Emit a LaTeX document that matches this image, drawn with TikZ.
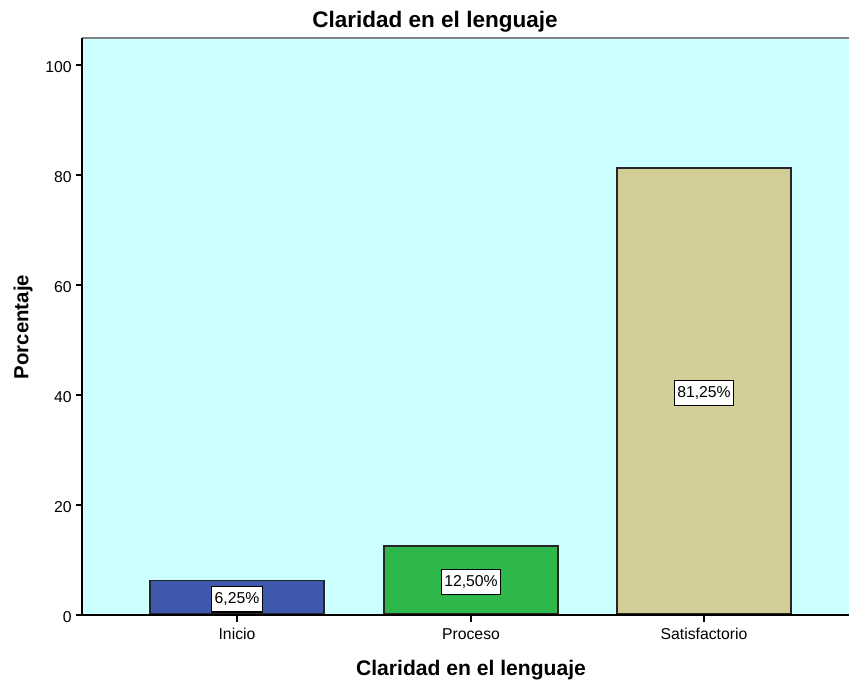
\documentclass[tikz,border=0pt]{standalone}
\usepackage{fontspec}
\setmainfont{Liberation Sans}
\usetikzlibrary{positioning}

\definecolor{fondo}{RGB}{204,255,255}
\definecolor{azulinicio}{RGB}{62,88,172}
\definecolor{verdeproceso}{RGB}{46,184,75}
\definecolor{beigesatis}{RGB}{211,206,152}

\tikzset{
  barra/.style={draw=black!85, line width=1.1pt, anchor=south, minimum width=4.35cm, inner sep=0pt},
  valor/.style={draw=black, fill=white, line width=0.9pt, inner xsep=2pt, inner ysep=0pt, minimum height=0.63cm, yshift=-1.4pt, font=\fontsize{11.2}{13}\selectfont},
  marca/.style={inner sep=0pt, font=\fontsize{11.2}{13}\selectfont},
  eje/.style={line width=1.1pt, black},
}

\begin{document}
\begin{tikzpicture}[x=0.025cm, y=-0.025cm]
        \useasboundingbox (0,0) rectangle (849,681);

        % area del grafico
        \coordinate (arribaizq) at (82,38);
        \coordinate (arribader) at (849,38);
        \coordinate (origen) at (82,615);
        \coordinate (abajoder) at (849,615);
        \fill[fondo] (arribaizq) rectangle (abajoder);
        \draw[line width=1.3pt, black!50] (arribaizq) -- (arribader);

        % barras
        \node[barra, fill=azulinicio, minimum height=0.84cm] (inicio) at (237,615) {};
        \node[barra, fill=verdeproceso, minimum height=1.70cm] (proceso) at (471,615) {};
        \node[barra, fill=beigesatis, minimum height=11.15cm] (satis) at (704,615) {};

        \draw[eje] (arribaizq) -- (origen) -- (abajoder);

        % eje y
        \foreach \v in {0,20,...,100} {
            \coordinate (ty\v) at (82,{615-5.5*\v});
            \draw[eje] (ty\v) -- ++(-6,0);
            \node[marca, anchor=east] (ny\v) at (72,{617-5.5*\v}) {\v};
        }

        % eje x
        \draw[eje] (inicio.south) -- ++(0,7);
        \draw[eje] (proceso.south) -- ++(0,7);
        \draw[eje] (satis.south) -- ++(0,7);
        \node[marca] (tinicio) [below=0.325cm of inicio.south] {Inicio};
        \node[marca] (tproceso) [below=0.325cm of proceso.south] {Proceso};
        \node[marca] (tsatis) [below=0.325cm of satis.south] {Satisfactorio};

        % valores
        \node[valor] (vinicio) at (inicio.center) {6,25\%};
        \node[valor] (vproceso) at (proceso.center) {12,50\%};
        \node[valor] (vsatis) at (satis.center) {81,25\%};

        % titulos
        \node[font=\fontsize{16}{19}\bfseries\selectfont] (titulo) at (435,22) {Claridad en el lenguaje};
        \node[font=\fontsize{15}{18}\bfseries\selectfont] (ejex) at (471,670) {Claridad en el lenguaje};
        \node[rotate=90, font=\fontsize{14.5}{17}\bfseries\selectfont] (ejey) at (23,327) {Porcentaje};
\end{tikzpicture}
\end{document}
